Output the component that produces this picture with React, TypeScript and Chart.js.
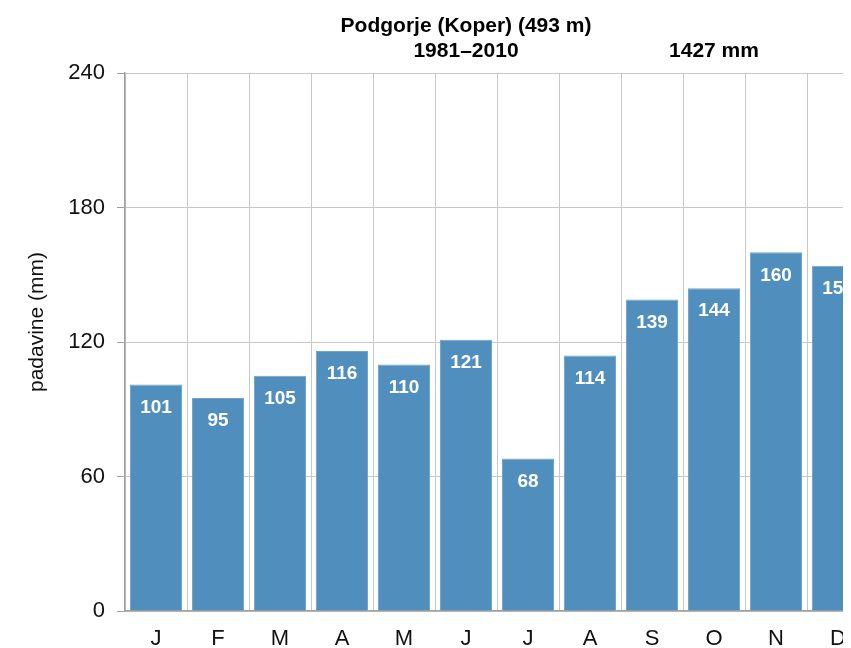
import React, { useEffect, useRef } from "react";
import { Chart, registerables } from "chart.js";

Chart.register(...registerables);

const months = ["J", "F", "M", "A", "M", "J", "J", "A", "S", "O", "N", "D"];
const precipitation = [101, 95, 105, 116, 110, 121, 68, 114, 139, 144, 160, 154];
const yTicks = [0, 60, 120, 180, 240];
const titleLine1 = "Podgorje (Koper) (493 m)";
const titleLine2Left = "1981–2010";
const titleLine2Right = "1427 mm";
const yAxisTitle = "padavine (mm)";

const FONT = "'Liberation Sans', Arial, sans-serif";
const BAR_COLOR = "#508fbd";

const textPlugin = {
  id: "customText",
  afterDatasetsDraw(chart: any) {
    const ctx = chart.ctx;
    const meta = chart.getDatasetMeta(0);
    ctx.save();
    ctx.fillStyle = "#ffffff";
    ctx.font = `bold 19px ${FONT}`;
    ctx.textAlign = "center";
    ctx.textBaseline = "middle";
    meta.data.forEach((bar: any, i: number) => {
      ctx.fillText(String(precipitation[i]), bar.x, bar.y + 23);
    });
    ctx.restore();
  },
  afterDraw(chart: any) {
    const ctx = chart.ctx;
    const x = chart.scales.x;
    ctx.save();
    ctx.fillStyle = "#000000";
    ctx.font = `bold 21px ${FONT}`;
    ctx.textAlign = "center";
    ctx.textBaseline = "alphabetic";
    ctx.fillText(titleLine1, x.getPixelForValue(5), 24);
    ctx.fillText(titleLine2Left, x.getPixelForValue(5), 49);
    ctx.fillText(titleLine2Right, x.getPixelForValue(9), 49);
    ctx.translate(29, 314);
    ctx.rotate(-Math.PI / 2);
    ctx.textBaseline = "middle";
    ctx.font = `21px ${FONT}`;
    ctx.fillStyle = "#111111";
    ctx.fillText(yAxisTitle, 0, 0);
    ctx.restore();
  },
};

export default function App() {
  const ref = useRef<HTMLCanvasElement>(null);
  useEffect(() => {
    document.body.style.overflow = "hidden";
    if (!ref.current) return;
    const chart = new Chart(ref.current, {
      type: "bar",
      data: {
        labels: months,
        datasets: [
          {
            data: precipitation,
            backgroundColor: BAR_COLOR,
            borderColor: "#6fa3cc",
            borderWidth: 1,
            categoryPercentage: 0.84,
            barPercentage: 1,
          },
        ],
      },
      options: {
        responsive: false,
        animation: false,
        layout: { padding: { left: 0, right: 19, top: 65, bottom: 0 } },
        plugins: {
          legend: { display: false },
          tooltip: { enabled: false },
          title: { display: false },
        },
        scales: {
          x: {
            afterFit(scale: any) {
              scale.height = 37;
            },
            grid: {
              color: "#c8c8c8",
              lineWidth: 1,
              drawTicks: false,
              offset: true,
            },
            border: { color: "#a0a0a0", width: 1.5 },
            ticks: {
              color: "#111111",
              font: { family: FONT, size: 22 },
              padding: 15,
            },
          },
          y: {
            min: 0,
            max: 240,
            afterFit(scale: any) {
              scale.width = 117;
            },
            afterBuildTicks(scale: any) {
              scale.ticks = yTicks.map((v) => ({ value: v }));
            },
            grid: {
              color: "#c8c8c8",
              lineWidth: 1,
              tickLength: 8,
              tickColor: "#a0a0a0",
            },
            border: { color: "#a0a0a0", width: 1.5 },
            ticks: {
              color: "#111111",
              font: { family: FONT, size: 22 },
              padding: 12,
            },
          },
        },
      },
      plugins: [textPlugin],
    });
    return () => chart.destroy();
  }, []);
  return (
    <div style={{ width: 880, height: 640, overflow: "hidden" }}>
      <canvas ref={ref} width={880} height={640} style={{ display: "block" }} />
    </div>
  );
}
